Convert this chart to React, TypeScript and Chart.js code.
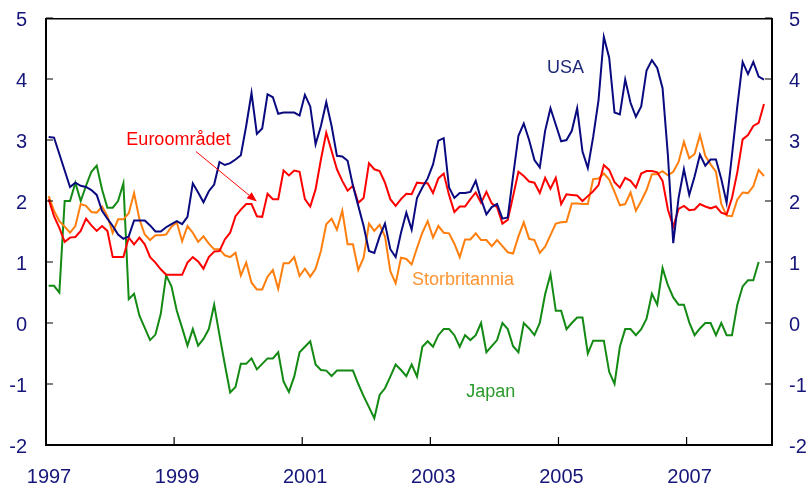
import React, { useEffect, useRef } from 'react';
import { Chart, registerables } from 'chart.js';

Chart.register(...registerables);

// Monthly data, Jan 1997 – Mar 2008 (x = months since Jan 1997, plotted mid-month)
const startYear = 1997;
const axisMonths = 136;
const yearTickLabels = ['1997', '1999', '2001', '2003', '2005', '2007'];
const yTickValues = [5, 4, 3, 2, 1, 0, -1, -2];
const yMin = -2;
const yMax = 5;

const usa = [
  3.05, 3.04, 2.77, 2.5, 2.23, 2.3, 2.25, 2.23, 2.18, 2.1, 1.84, 1.71, 1.59, 1.45, 1.38, 1.42, 1.68, 1.68, 1.68, 1.6,
  1.5, 1.5, 1.57, 1.62, 1.67, 1.62, 1.74, 2.29, 2.14, 1.98, 2.16, 2.27, 2.64, 2.59, 2.62, 2.68, 2.75, 3.23, 3.77, 3.1,
  3.19, 3.75, 3.7, 3.43, 3.45, 3.45, 3.45, 3.4, 3.74, 3.55, 2.93, 3.23, 3.62, 3.23, 2.74, 2.73, 2.66, 2.25, 1.92, 1.59,
  1.18, 1.15, 1.42, 1.63, 1.21, 1.08, 1.48, 1.81, 1.53, 2.05, 2.22, 2.37, 2.6, 2.99, 3.03, 2.22, 2.05, 2.13, 2.13, 2.15,
  2.33, 2.03, 1.78, 1.9, 1.95, 1.71, 1.73, 2.41, 3.07, 3.27, 3.0, 2.67, 2.55, 3.15, 3.52, 3.25, 2.98, 3.0, 3.15, 3.52,
  2.81, 2.54, 3.05, 3.65, 4.69, 4.35, 3.45, 3.42, 3.99, 3.61, 3.38, 3.55, 4.14, 4.31, 4.18, 3.85, 2.75, 1.31, 2.05, 2.52,
  2.1, 2.4, 2.76, 2.58, 2.68, 2.68, 2.36, 1.97, 2.75, 3.55, 4.28, 4.08, 4.28, 4.04, 3.99,
];

const euro = [
  2.03, 1.75, 1.56, 1.33, 1.4, 1.41, 1.51, 1.71, 1.6, 1.51, 1.59, 1.51, 1.08, 1.08, 1.08, 1.4, 1.29, 1.4, 1.29, 1.08,
  0.99, 0.88, 0.79, 0.79, 0.79, 0.79, 0.99, 1.08, 1.01, 0.89, 1.08, 1.17, 1.18, 1.37, 1.48, 1.75, 1.86, 1.95, 1.95, 1.75,
  1.74, 2.12, 2.03, 2.03, 2.5, 2.42, 2.5, 2.48, 2.03, 1.91, 2.19, 2.68, 3.12, 2.82, 2.52, 2.33, 2.17, 2.25, 1.97, 2.05,
  2.62, 2.52, 2.49, 2.3, 2.03, 1.92, 2.03, 2.12, 2.11, 2.3, 2.29, 2.29, 2.13, 2.37, 2.45, 2.1, 1.82, 1.91, 1.91, 2.03,
  2.14, 1.97, 2.15, 1.96, 1.9, 1.63, 1.69, 2.08, 2.48, 2.41, 2.32, 2.3, 2.13, 2.38, 2.2, 2.38, 1.95, 2.11, 2.1, 2.09,
  2.0, 2.08, 2.16, 2.26, 2.59, 2.51, 2.31, 2.22, 2.38, 2.33, 2.22, 2.45, 2.49, 2.49, 2.47, 2.33, 1.86, 1.58, 1.87, 1.92,
  1.85, 1.86, 1.95, 1.91, 1.88, 1.91, 1.81, 1.78, 2.05, 2.47, 3.01, 3.08, 3.23, 3.28, 3.59,
];

const uk = [
  2.08, 1.84, 1.67, 1.58, 1.48, 1.59, 1.95, 1.92, 1.82, 1.81, 1.91, 1.75, 1.48, 1.7, 1.7, 1.8, 2.13, 1.7, 1.45, 1.36,
  1.44, 1.44, 1.45, 1.58, 1.65, 1.34, 1.59, 1.48, 1.33, 1.42, 1.3, 1.21, 1.21, 1.11, 1.08, 1.15, 0.78, 0.99, 0.66, 0.55,
  0.55, 0.76, 0.87, 0.56, 0.98, 0.98, 1.08, 0.77, 0.89, 0.76, 0.89, 1.18, 1.62, 1.71, 1.53, 1.84, 1.29, 1.29, 0.87, 1.07,
  1.63, 1.51, 1.61, 1.42, 0.85, 0.65, 1.07, 1.05, 0.96, 1.23, 1.48, 1.67, 1.4, 1.59, 1.48, 1.47, 1.3, 1.08, 1.37, 1.37,
  1.47, 1.36, 1.36, 1.26, 1.36, 1.26, 1.16, 1.14, 1.42, 1.65, 1.38, 1.36, 1.15, 1.25, 1.44, 1.63, 1.65, 1.66, 1.96, 1.96,
  1.95, 1.95, 2.36, 2.37, 2.45, 2.35, 2.15, 1.93, 1.95, 2.14, 1.84, 2.0, 2.18, 2.44, 2.44, 2.49, 2.42, 2.48, 2.64, 2.97,
  2.7, 2.77, 3.08, 2.74, 2.6, 2.48, 1.95, 1.76, 1.75, 2.02, 2.14, 2.13, 2.24, 2.51, 2.41,
];

const japan = [
  0.61, 0.61, 0.5, 2.0, 2.0, 2.3, 2.0, 2.25, 2.48, 2.58, 2.19, 1.89, 1.89, 2.0, 2.29, 0.39, 0.48, 0.12, -0.08, -0.28,
  -0.19, 0.15, 0.78, 0.6, 0.2, -0.08, -0.37, -0.1, -0.37, -0.26, -0.1, 0.3, -0.2, -0.68, -1.14, -1.05, -0.67, -0.67, -0.58, -0.76,
  -0.67, -0.58, -0.58, -0.48, -0.96, -1.13, -0.88, -0.48, -0.39, -0.3, -0.68, -0.77, -0.78, -0.87, -0.78, -0.78, -0.78, -0.78, -1.0, -1.2,
  -1.38, -1.56, -1.18, -1.07, -0.88, -0.68, -0.77, -0.87, -0.68, -0.88, -0.39, -0.3, -0.39, -0.2, -0.1, -0.1, -0.2, -0.39, -0.2, -0.28,
  -0.2, 0.0, -0.48, -0.38, -0.28, 0.0, -0.1, -0.38, -0.48, 0.0, -0.09, -0.2, 0.0, 0.47, 0.8, 0.2, 0.2, -0.1, 0.0, 0.09,
  0.09, -0.5, -0.29, -0.29, -0.29, -0.8, -1.0, -0.39, -0.1, -0.1, -0.2, -0.1, 0.07, 0.48, 0.3, 0.9, 0.62, 0.42, 0.3, 0.3,
  0.01, -0.2, -0.09, 0.0, 0.0, -0.2, 0.0, -0.2, -0.2, 0.3, 0.6, 0.7, 0.7, 1.0,
];

const seriesNames = ['USA', 'Euroområdet', 'Storbritannia', 'Japan'];
const seriesColors = ['#0a0a80', '#ff0000', '#ff7f0e', '#138a13'];
const labelColors = ['#1f2a78', '#ff0000', '#ff9433', '#2a9a2a'];

// Annotation anchors in data units (months since Jan 1997, value)
const annotationPos = [
  { x: 97.3, y: 4.18 },
  { x: 24.8, y: 3.0 },
  { x: 78.1, y: 0.7 },
  { x: 83.3, y: -1.13 },
];
const euroArrowFrom = { x: 28.1, y: 2.81 };
const euroArrowTo = { x: 39.5, y: 1.99 };

const toPoints = (vals: number[]) => vals.map((v, i) => ({ x: i + 0.5, y: v }));

const axisColor = '#16167a';
const fontFamily = "'Liberation Sans', Arial, sans-serif";

const framePlugin = {
  id: 'frameAndLabels',
  afterDraw(chart: any) {
    const { ctx, scales } = chart;
    const xs = scales.x;
    const ys = scales.y;
    const left = xs.getPixelForValue(0);
    const right = xs.getPixelForValue(axisMonths);
    const top = ys.getPixelForValue(yMax);
    const bottom = ys.getPixelForValue(yMin);
    ctx.save();
    ctx.strokeStyle = '#000';
    ctx.lineWidth = 1.5;
    ctx.beginPath();
    ctx.moveTo(left, top + 0.75);
    ctx.lineTo(right, top + 0.75);
    ctx.stroke();
    ctx.lineWidth = 2;
    ctx.beginPath();
    ctx.moveTo(left, top);
    ctx.lineTo(left, bottom);
    ctx.lineTo(right, bottom);
    ctx.lineTo(right, top);
    ctx.stroke();
    ctx.lineWidth = 1.2;
    ctx.beginPath();
    yTickValues.forEach((v) => {
      const py = ys.getPixelForValue(v);
      ctx.moveTo(left, py);
      ctx.lineTo(left + 7, py);
      ctx.moveTo(right, py);
      ctx.lineTo(right - 7, py);
    });
    yearTickLabels.forEach((l) => {
      const px = xs.getPixelForValue((Number(l) - startYear) * 12);
      ctx.moveTo(px, bottom);
      ctx.lineTo(px, bottom - 8);
    });
    ctx.stroke();

    // series labels
    ctx.font = `18px ${fontFamily}`;
    ctx.textAlign = 'center';
    ctx.textBaseline = 'middle';
    seriesNames.forEach((name, i) => {
      const p = annotationPos[i];
      ctx.fillStyle = labelColors[i];
      ctx.fillText(name, xs.getPixelForValue(p.x), ys.getPixelForValue(p.y));
    });

    // arrow for Euroområdet
    const x1 = xs.getPixelForValue(euroArrowFrom.x);
    const y1 = ys.getPixelForValue(euroArrowFrom.y);
    const x2 = xs.getPixelForValue(euroArrowTo.x);
    const y2 = ys.getPixelForValue(euroArrowTo.y);
    const ang = Math.atan2(y2 - y1, x2 - x1);
    const headLen = 10;
    const hx = x2 - headLen * Math.cos(ang);
    const hy = y2 - headLen * Math.sin(ang);
    ctx.strokeStyle = '#ff0000';
    ctx.fillStyle = '#ff0000';
    ctx.lineWidth = 1;
    ctx.beginPath();
    ctx.moveTo(x1, y1);
    ctx.lineTo(hx, hy);
    ctx.stroke();
    ctx.beginPath();
    ctx.moveTo(x2, y2);
    ctx.lineTo(hx + 4 * Math.sin(ang), hy - 4 * Math.cos(ang));
    ctx.lineTo(hx - 4 * Math.sin(ang), hy + 4 * Math.cos(ang));
    ctx.closePath();
    ctx.fill();
    ctx.restore();
  },
};

const fitVertical = (width: number) => (scale: any) => {
  scale.width = width;
  scale.paddingTop = 0;
  scale.paddingBottom = 0;
};

export default function App() {
  const canvasRef = useRef<HTMLCanvasElement | null>(null);

  useEffect(() => {
    if (!canvasRef.current) return;
    const allSeries = [usa, euro, uk, japan];
    const chart = new Chart(canvasRef.current, {
      type: 'line',
      data: {
        datasets: allSeries.map((vals, i) => ({
          label: seriesNames[i],
          data: toPoints(vals),
          borderColor: seriesColors[i],
          backgroundColor: seriesColors[i],
          borderWidth: 2,
          pointRadius: 0,
          tension: 0,
          fill: false,
          yAxisID: 'y',
          order: i,
        })),
      },
      options: {
        animation: false,
        responsive: true,
        maintainAspectRatio: false,
        layout: { padding: { top: 18, left: 0, right: 0, bottom: 0 } },
        plugins: {
          legend: { display: false },
          tooltip: { enabled: false },
        },
        scales: {
          x: {
            type: 'linear',
            position: 'bottom',
            min: 0,
            max: axisMonths,
            grid: { display: false, drawTicks: false },
            border: { display: false },
            afterBuildTicks: (scale: any) => {
              scale.ticks = yearTickLabels.map((l) => ({ value: (Number(l) - startYear) * 12 }));
            },
            afterFit: (scale: any) => {
              scale.height = 47;
              scale.paddingLeft = 0;
              scale.paddingRight = 0;
            },
            ticks: {
              autoSkip: false,
              maxRotation: 0,
              padding: 20,
              labelOffset: 3,
              color: axisColor,
              font: { family: fontFamily, size: 20 },
              callback: (value: any) => {
                const lab = yearTickLabels.find((l) => (Number(l) - startYear) * 12 === Number(value));
                return lab ?? '';
              },
            },
          },
          y: {
            type: 'linear',
            position: 'left',
            min: yMin,
            max: yMax,
            grid: { display: false, drawTicks: false },
            border: { display: false },
            afterBuildTicks: (scale: any) => {
              scale.ticks = yTickValues.map((v) => ({ value: v }));
            },
            afterFit: fitVertical(46),
            ticks: {
              padding: 19,
              labelOffset: 2,
              color: axisColor,
              font: { family: fontFamily, size: 20 },
              callback: (v: any) => String(v),
            },
          },
          y2: {
            type: 'linear',
            position: 'right',
            display: true,
            min: yMin,
            max: yMax,
            grid: { display: false, drawTicks: false },
            border: { display: false },
            afterBuildTicks: (scale: any) => {
              scale.ticks = yTickValues.map((v) => ({ value: v }));
            },
            afterFit: fitVertical(35),
            ticks: {
              padding: 17,
              labelOffset: 2,
              color: axisColor,
              font: { family: fontFamily, size: 20 },
              callback: (v: any) => String(v),
            },
          },
        },
      } as any,
      plugins: [framePlugin],
    });
    return () => chart.destroy();
  }, []);

  return (
    <div style={{ position: 'absolute', left: 0, top: 0, width: 807, height: 492, background: '#fff' }}>
      <canvas ref={canvasRef} />
    </div>
  );
}
